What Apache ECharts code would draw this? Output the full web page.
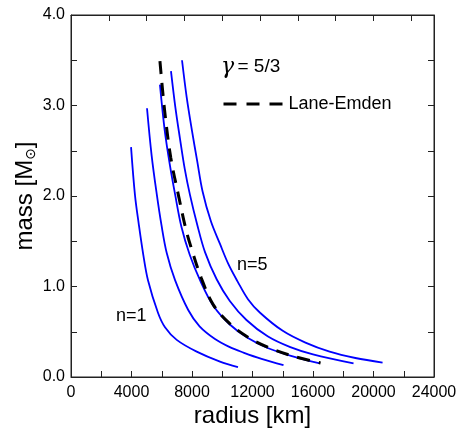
<!DOCTYPE html>
<html>
<head>
<meta charset="utf-8">
<script src="https://cdn.jsdelivr.net/npm/echarts@6/dist/echarts.min.js"></script>
<style>
html,body{margin:0;padding:0;background:#fff;}
#chart{width:457px;height:430px;}
</style>
</head>
<body>
<div id="chart"></div>
<script>
// ---- data (radius in km, mass in solar masses) ----
const xTicks = [0, 4000, 8000, 12000, 16000, 20000, 24000];
const yTicks = [0.0, 1.0, 2.0, 3.0, 4.0];

const r1 = [3970, 4230, 4480, 4780, 5090, 5750, 6215, 6990, 8310, 9850, 11040];
const m1 = [2.54, 2.01, 1.69, 1.35, 1.07, 0.71, 0.55, 0.41, 0.28, 0.17, 0.11];

const r2 = [5025, 5330, 5670, 5980, 6330, 6880, 7750, 8500, 9520, 10500, 11400, 12600, 14050];
const m2 = [2.97, 2.45, 2.02, 1.68, 1.37, 1.07, 0.74, 0.56, 0.42, 0.33, 0.27, 0.20, 0.13];

const r3 = [5880, 6200, 6550, 6880, 7300, 7850, 8530, 9400, 10500, 11700, 13000, 14600, 16450];
const m3 = [3.23, 2.72, 2.33, 2.02, 1.66, 1.35, 1.07, 0.79, 0.58, 0.43, 0.32, 0.23, 0.15];

const r4 = [6610, 6900, 7200, 7520, 7870, 8350, 8860, 9630, 10500, 11600, 13000, 14500, 16000, 18680];
const m4 = [3.38, 2.98, 2.64, 2.30, 2.01, 1.68, 1.38, 1.08, 0.84, 0.63, 0.45, 0.33, 0.25, 0.15];

const r5 = [7340, 7650, 8000, 8350, 8700, 9250, 9850, 10400, 11000, 11700, 12500, 14000, 15500, 17100, 18800, 20600];
const m5 = [3.50, 3.09, 2.72, 2.38, 2.05, 1.72, 1.47, 1.25, 1.06, 0.86, 0.71, 0.51, 0.38, 0.28, 0.21, 0.16];

const rLE = [5880, 6200, 6600, 7140, 7600, 8000, 8600, 9400, 10500, 11700, 13000, 14600, 16500];
const mLE = [3.49, 2.93, 2.42, 1.98, 1.63, 1.40, 1.10, 0.80, 0.59, 0.44, 0.33, 0.235, 0.155];

const curveNames = ['n=1', 'n=2', 'n=3', 'n=4', 'n=5'];
const legendName = 'Lane-Emden';

// ---- build ----
const zip = (r, m) => r.map((v, i) => [v, m[i]]);
const blueCurves = [[r1, m1], [r2, m2], [r3, m3], [r4, m4], [r5, m5]];
const FONT = "'Liberation Sans', Arial, Helvetica, sans-serif";

const series = blueCurves.map((c, i) => ({
  name: curveNames[i],
  type: 'line',
  data: zip(c[0], c[1]),
  symbol: 'none',
  smooth: 0.35,
  lineStyle: { color: '#0000ff', width: 1.8 },
  itemStyle: { color: '#0000ff' },
  xAxisIndex: 0, yAxisIndex: 0,
  z: 2,
  silent: true
}));
series.push({
  name: legendName,
  type: 'line',
  data: zip(rLE, mLE),
  symbol: 'none',
  smooth: 0.35,
  lineStyle: { color: '#000', width: 3, type: [13, 9] },
  itemStyle: { color: '#000' },
  xAxisIndex: 0, yAxisIndex: 0,
  z: 3,
  silent: true
});

const tickStyle = () => ({ show: true, inside: true, length: 6, lineStyle: { color: '#222', width: 1 } });
const lineStyle = () => ({ show: true, onZero: false, lineStyle: { color: '#222', width: 1 } });

const chart = echarts.init(document.getElementById('chart'), null, { renderer: 'canvas' });
chart.setOption({
  animation: false,
  backgroundColor: '#fff',
  grid: { left: 71, right: 23, top: 15, bottom: 53, containLabel: false, outerBoundsMode: 'none',
          show: true, borderColor: '#222', borderWidth: 1, backgroundColor: 'transparent' },
  legend: {
    data: [legendName],
    left: 222, top: 95, padding: 0,
    itemWidth: 60, itemHeight: 14, itemGap: 5,
    itemStyle: { opacity: 0 },
    lineStyle: { width: 3, type: [13, 10], color: '#000' },
    textStyle: { fontSize: 18, color: '#000', fontFamily: FONT },
    selectedMode: false
  },
  xAxis: [{
    type: 'value', position: 'bottom', min: xTicks[0], max: xTicks[xTicks.length - 1], interval: 2000,
    axisLine: lineStyle(), axisTick: tickStyle(), splitLine: { show: false },
    axisLabel: {
      color: '#000', fontSize: 16, fontFamily: FONT, margin: 8,
      formatter: v => (xTicks.indexOf(v) >= 0 ? String(v) : '')
    },
    name: 'radius [km]', nameLocation: 'middle', nameGap: 27, nameMoveOverlap: false,
    nameTextStyle: { fontSize: 24, fontFamily: FONT, color: '#000' }
  }, {
    type: 'value', position: 'top', min: 0, max: 24000, interval: 2500,
    axisLine: lineStyle(), axisTick: tickStyle(), splitLine: { show: false },
    axisLabel: { show: false }
  }],
  yAxis: [{
    type: 'value', position: 'left', min: yTicks[0], max: yTicks[yTicks.length - 1], interval: 0.5,
    axisLine: lineStyle(), axisTick: tickStyle(), splitLine: { show: false },
    axisLabel: {
      color: '#000', fontSize: 16, fontFamily: FONT, margin: 6,
      formatter: v => (yTicks.indexOf(v) >= 0 ? v.toFixed(1) : '')
    },
    name: 'mass [M{sub|⊙}]', nameLocation: 'middle', nameGap: 33, nameMoveOverlap: false,
    nameTextStyle: {
      fontSize: 24, fontFamily: FONT, color: '#000',
      rich: { sub: { fontSize: 14, fontFamily: "'DejaVu Sans', sans-serif", color: '#000', verticalAlign: 'bottom', lineHeight: 26 } }
    }
  }, {
    type: 'value', position: 'right', min: 0, max: 4, interval: 0.5,
    axisLine: lineStyle(), axisTick: tickStyle(), splitLine: { show: false },
    axisLabel: { show: false }
  }],
  graphic: [
    {
      type: 'text', left: 221, top: 56,
      style: {
        text: '{g|γ} {t|= 5/3}',
        rich: {
          g: { fontSize: 22, fontFamily: "'DejaVu Serif', serif", fontStyle: 'italic', fill: '#000' },
          t: { fontSize: 19, fontFamily: FONT, fill: '#000' }
        }
      }
    },
    { type: 'text', left: 116, top: 307, style: { text: curveNames[0], fontSize: 18, fontFamily: FONT, fill: '#000' } },
    { type: 'text', left: 237, top: 256, style: { text: curveNames[4], fontSize: 18, fontFamily: FONT, fill: '#000' } }
  ],
  series: series
});
</script>
</body>
</html>
